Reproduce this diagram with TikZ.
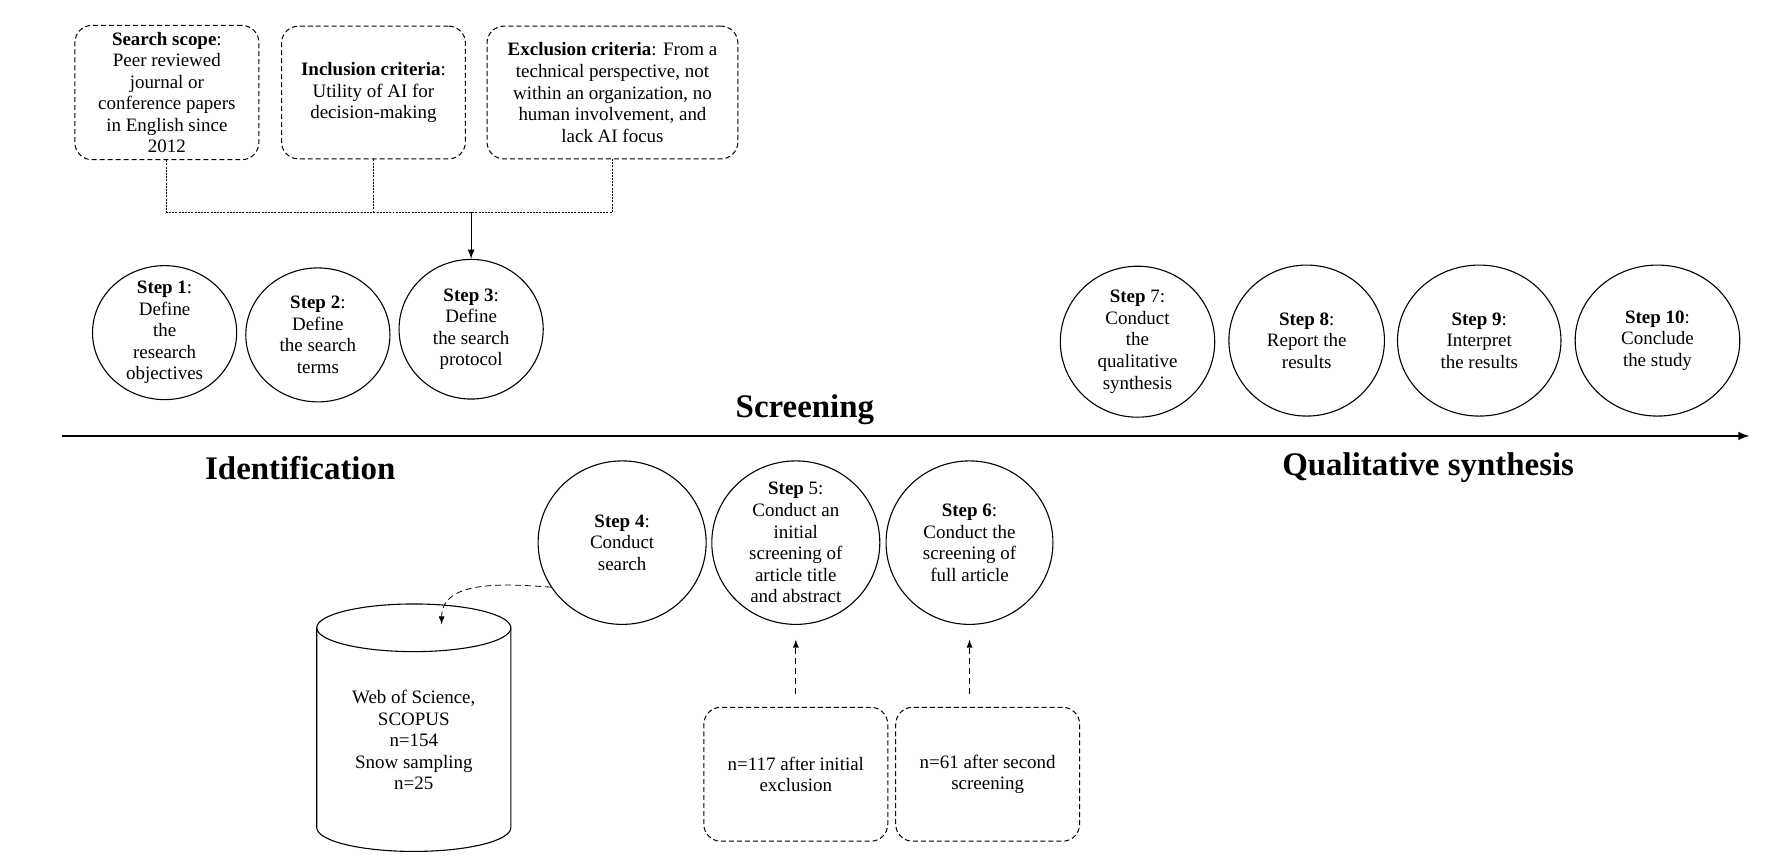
\documentclass[tikz,border=0pt]{standalone}
\usepackage{fontspec}
\setmainfont{Liberation Serif}
\usetikzlibrary{arrows,shapes.geometric,positioning}
\tikzset{
	>=latex,
	stepnode/.style = {
			ellipse,
			draw,
			line width = 0.55pt,
			inner sep = -8pt,
			minimum width = 25.4mm,
			minimum height = 23.6mm,
			align = center,
			font = \fontsize{9.5}{10.8}\selectfont
		},
	dashbox/.style = {
			draw,
			rectangle,
			line width = 0.5pt,
			rounded corners = 3mm,
			dash pattern = on 2.5pt off 1.5pt,
			minimum width = 32.4mm,
			minimum height = 23.4mm,
			align = center,
			font = \fontsize{9.5}{10.8}\selectfont
		},
	phase/.style = {font=\fontsize{16.5}{19}\selectfont\bfseries},
	link/.style = {draw, thin, dash pattern = on 1pt off 0.6pt}
}

\begin{document}
\begin{tikzpicture}[x=0.2mm,y=0.2mm]
    \useasboundingbox (0,0) rectangle (1560,-759);

    \node[dashbox] at (147,-81.5) (scope) {\textbf{Search scope}:\\
      Peer reviewed\\
      journal or\\
      conference papers\\
      in English since\\
      2012};
    \node[dashbox] at (329,-81.5) (inclusion) {\textbf{Inclusion criteria}:\\
      Utility of AI for\\
      decision-making};
    \node[dashbox, minimum width=44.2mm] at (539.5,-81.5) (exclusion) {\textbf{Exclusion criteria}: From a\\
      technical perspective, not\\
      within an organization, no\\
      human involvement, and\\
      lack AI focus};

    \coordinate (join) at (415,-187);
    \draw[link] (scope.south) |- (join) -| (exclusion.south);
    \draw[link] (inclusion.south) -- (inclusion.south |- join);

    \node[stepnode] at (145,-293) (step1) {\textbf{Step 1}:\\ Define\\ the\\ research\\ objectives};
    \node[stepnode] at (280,-295) (step2) {\textbf{Step 2}:\\ Define\\ the search\\ terms};
    \node[stepnode, minimum height=24.6mm] at (415,-290) (step3) {\textbf{Step 3}:\\ Define\\ the search\\ protocol};

    \draw[->, semithick] (join) -- (step3);

    \node[stepnode, minimum width=27.2mm, minimum height=26.6mm] at (1002,-301) (step7) {\textbf{Step} 7:\\ Conduct\\ the\\ qualitative\\ synthesis};
    \node[stepnode, minimum width=27.4mm, minimum height=26.6mm] at (1151,-300) (step8) {\textbf{Step 8}:\\ Report the\\ results};
    \node[stepnode, minimum width=28.8mm, minimum height=26.6mm] at (1303,-300) (step9) {\textbf{Step 9}:\\ Interpret\\ the results};
    \node[stepnode, minimum width=29mm, minimum height=26.6mm] at (1460,-300) (step10) {\textbf{Step 10}:\\ Conclude\\ the study};

    \node[phase] at (709,-361) (screening) {Screening};
    \coordinate (axisL) at (55,-384);
    \coordinate (axisR) at (1541,-384);
    \draw[->, line width=0.9pt] (axisL) -- (axisR);
    \node[phase] at (264.5,-412) (identification) {Identification};
    \node[phase] at (1258,-412) (synthesis) {Qualitative synthesis};

    \node[stepnode, minimum width=29.6mm, minimum height=28.8mm] at (548,-478) (step4) {\textbf{Step 4}:\\ Conduct\\ search};
    \node[stepnode, minimum width=29.6mm, minimum height=28.8mm] at (701,-478) (step5) {\textbf{Step} 5:\\ Conduct an\\ initial\\ screening of\\ article title\\ and abstract};
    \node[stepnode, minimum width=29.4mm, minimum height=28.8mm] at (854,-478) (step6) {\textbf{Step 6}:\\ Conduct the\\ screening of\\ full article};

    \node[align=center, font=\fontsize{9.5}{10.8}\selectfont] at (364.5,-652) (db) {Web of Science,\\
      SCOPUS\\
      n=154\\
      Snow sampling\\
      n=25};
    \draw[line width=0.55pt] (279,-553) -- (279,-729) arc[start angle=180, end angle=360, x radius=85.5, y radius=21] -- (450,-553);
    \draw[line width=0.55pt] (364.5,-553) ellipse [x radius=85.5, y radius=21];
    \coordinate (dbtop) at (389,-550);
    \draw[->, densely dashed] (step4.212) to[out=176, in=90] (dbtop);

    \node[dashbox, minimum height=23.6mm] at (701,-682) (b117) {n=117 after initial\\ exclusion};
    \node[dashbox, minimum height=23.6mm] at (870,-682) (b61) {n=61 after second\\ screening};

    \draw[->, densely dashed, shorten <=2.2mm, shorten >=2.6mm] (step5.south |- b117.north) -- (step5.south);
    \draw[->, densely dashed, shorten <=2.2mm, shorten >=2.6mm] (step6.south |- b61.north) -- (step6.south);
  \end{tikzpicture}
\end{document}
